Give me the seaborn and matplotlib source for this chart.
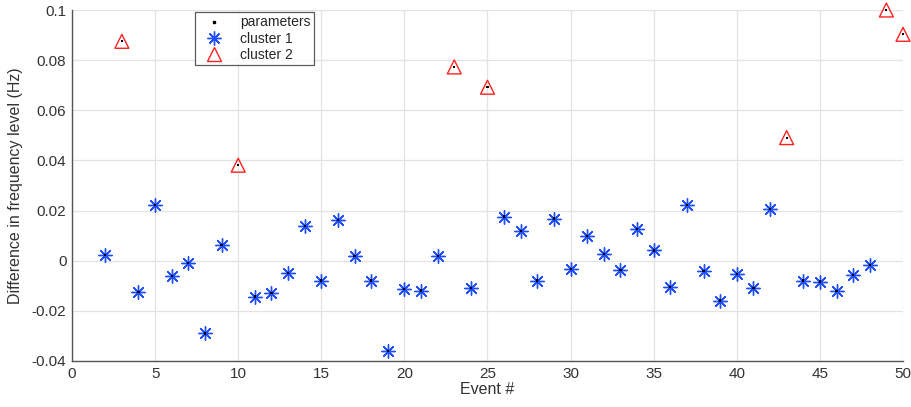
import numpy as np
import pandas as pd
import matplotlib
matplotlib.use("Agg")
import matplotlib.pyplot as plt
from matplotlib.lines import Line2D
from matplotlib.ticker import FuncFormatter, MultipleLocator
import seaborn as sns

# ---- data ----
cluster1_events = [2, 4, 5, 6, 7, 8, 9, 11, 12, 13, 14, 15, 16, 17, 18, 19, 20, 21, 22,
                   24, 26, 27, 28, 29, 30, 31, 32, 33, 34, 35, 36, 37, 38, 39, 40, 41,
                   42, 44, 45, 46, 47, 48]
cluster1_values = [0.0022, -0.0125, 0.0221, -0.0061, -0.0010, -0.0290, 0.0064, -0.0143,
                   -0.0128, -0.0048, 0.0138, -0.0079, 0.0161, 0.0020, -0.0079, -0.0360,
                   -0.0112, -0.0119, 0.0019, -0.0108, 0.0176, 0.0120, -0.0079, 0.0168,
                   -0.0032, 0.0099, 0.0028, -0.0036, 0.0128, 0.0041, -0.0104, 0.0221,
                   -0.0042, -0.0159, -0.0052, -0.0108, 0.0205, -0.0079, -0.0083, -0.0120,
                   -0.0056, -0.0016]
cluster2_events = [3, 10, 23, 25, 43, 49, 50]
cluster2_values = [0.0875, 0.0381, 0.0773, 0.0692, 0.0491, 0.1000, 0.0903]

x_label = "Event #"
y_label = "Difference in frequency level (Hz)"
legend_labels = ["parameters", "cluster 1", "cluster 2"]

df1 = pd.DataFrame({"event": cluster1_events, "diff": cluster1_values})
df2 = pd.DataFrame({"event": cluster2_events, "diff": cluster2_values})
dfall = pd.concat([df1, df2]).sort_values("event")

sns.set_style("white")
plt.rcParams["font.family"] = ["Liberation Sans", "DejaVu Sans"]

fig = plt.figure(figsize=(9.12, 4.07), dpi=100)
ax = fig.add_axes([72 / 912, 1 - 361 / 407, 831 / 912, 351 / 407])

blue = "#1f4fff"
red = "#ff2020"
asterisk = (8, 2, 0)

sns.scatterplot(data=df1, x="event", y="diff", marker=asterisk, s=95,
                color=blue, edgecolor=blue, linewidth=1.0, ax=ax, zorder=3,
                legend=False, clip_on=False)
sns.scatterplot(data=df2, x="event", y="diff", marker="^", s=100,
                facecolor="none", edgecolor=red, linewidth=1.0, ax=ax, zorder=3,
                legend=False, clip_on=False)
sns.scatterplot(data=dfall, x="event", y="diff", marker="s", s=2.5,
                color="black", edgecolor="none", ax=ax, zorder=4, legend=False,
                clip_on=False)

ax.set_xlim(0, 50)
ax.set_ylim(-0.04, 0.1)
ax.xaxis.set_major_locator(MultipleLocator(5))
ax.yaxis.set_major_locator(MultipleLocator(0.02))
ax.yaxis.set_major_formatter(FuncFormatter(lambda v, p: "0" if abs(v) < 1e-12 else f"{v:g}"))

ax.grid(True, color="#e3e3e3", linewidth=0.9)
ax.set_axisbelow(True)
for s in ["top", "right"]:
    ax.spines[s].set_visible(False)
for s in ["left", "bottom"]:
    ax.spines[s].set_color("#555555")
    ax.spines[s].set_linewidth(1.0)
ax.tick_params(direction="in", length=5, width=1.0, color="#555555",
               labelsize=11, labelcolor="#333333", pad=4)

ax.set_xlabel(x_label, fontsize=11.5, color="#333333", labelpad=1)
ax.set_ylabel(y_label, fontsize=11.5, color="#333333", labelpad=6)

handles = [
    Line2D([], [], linestyle="none", marker="s", markersize=1.6, color="black"),
    Line2D([], [], linestyle="none", marker=asterisk, markersize=10, color=blue,
           markeredgewidth=1.0),
    Line2D([], [], linestyle="none", marker="^", markersize=10, markerfacecolor="none",
           markeredgecolor=red, markeredgewidth=1.0),
]
leg = ax.legend(handles, legend_labels, loc="upper left",
                bbox_to_anchor=(123 / 831, 1 - 2 / 351), fontsize=10,
                frameon=True, fancybox=False, edgecolor="#333333",
                borderpad=0.25, labelspacing=0.15, handletextpad=0.8,
                handlelength=2.2, borderaxespad=0)
leg.get_frame().set_linewidth(0.9)

fig.savefig("out.png", dpi=100)
